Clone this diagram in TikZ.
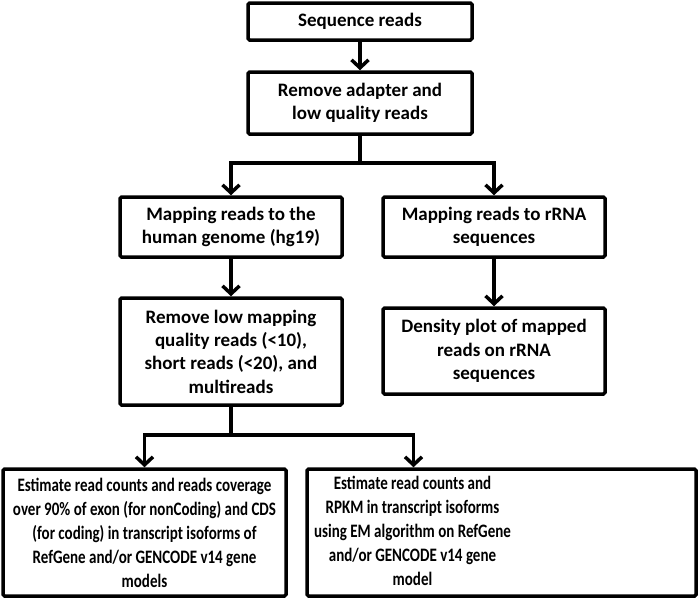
\documentclass[tikz,border=0pt]{standalone}
\usepackage{fontspec}
\setmainfont{Carlito}
\newfontfamily\narrowfont[FakeStretch=0.79]{Carlito}
\usetikzlibrary{arrows.meta, positioning}
\tikzstyle{step box} = [rectangle, rounded corners=1.5pt, draw, line width=3.5pt, align=center, text centered, font=\bfseries\fontsize{19}{23.3}\selectfont]
\tikzstyle{model box} = [step box, minimum height=127pt, font=\narrowfont\bfseries\fontsize{19}{24}\selectfont]
\tikzstyle{flow} = [line width=3.5pt, -{Straight Barb[length=8pt, width=17pt]}]
\tikzstyle{wire} = [line width=3.5pt]

\begin{document}
\begin{tikzpicture}[x=1pt, y=1pt]
  \useasboundingbox (0,0) rectangle (700,-603);
  \node (reads) [step box, minimum width=224pt, minimum height=37pt] at (360,-21.5) {Sequence reads};
  \node (adapter) [step box, minimum width=224pt, minimum height=62pt, below=28.5pt of reads] {Remove adapter and\\low quality reads};
  \node (human) [step box, minimum width=222pt, minimum height=60pt] at (231,-227) {Mapping reads to the\\human genome (hg19)};
  \node (rrna) [step box, minimum width=222pt, minimum height=60pt, right=37.5pt of human] {Mapping reads to rRNA\\sequences};
  \node (filter) [step box, minimum width=222pt, minimum height=107pt, below=37.5pt of human] {Remove low mapping\\quality reads (<10),\\short reads (<20), and\\multireads};
  \node (density) [step box, minimum width=222pt, minimum height=86pt, below=47.5pt of rrna] {Density plot of mapped\\reads on rRNA\\sequences};
  \node (coverage) [model box, minimum width=283pt] at (144.5,-532.5) {Estimate read counts and reads coverage\\over 90\% of exon (for nonCoding) and CDS\\(for coding) in transcript isoforms of\\RefGene and/or GENCODE v14 gene\\models};
  % text sits left of the box centre, under its arrow
  \node (rpkm) [model box, minimum width=389pt, right=17.5pt of coverage] {\begin{tabular}{@{}c@{}}Estimate read counts and\\RPKM in transcript isoforms\\using EM algorithm on RefGene\\and/or GENCODE v14 gene\\model\end{tabular}\hspace*{178pt}};

  \draw [flow] (reads) -- (adapter);
  \coordinate (split1) at ([yshift=-27pt]adapter.south);
  \draw [wire] (adapter) -- (split1);
  \draw [flow] (split1) -| (human);
  \draw [flow] (split1) -| (rrna);
  \draw [flow] (human) -- (filter);
  \draw [flow] (rrna) -- (density);
  \coordinate (split2) at ([yshift=-28pt]filter.south);
  \draw [wire] (filter) -- (split2);
  \draw [flow] (split2) -| (coverage);
  \draw [flow] (split2) -| ([xshift=-88pt]rpkm.north);
\end{tikzpicture}
\end{document}
